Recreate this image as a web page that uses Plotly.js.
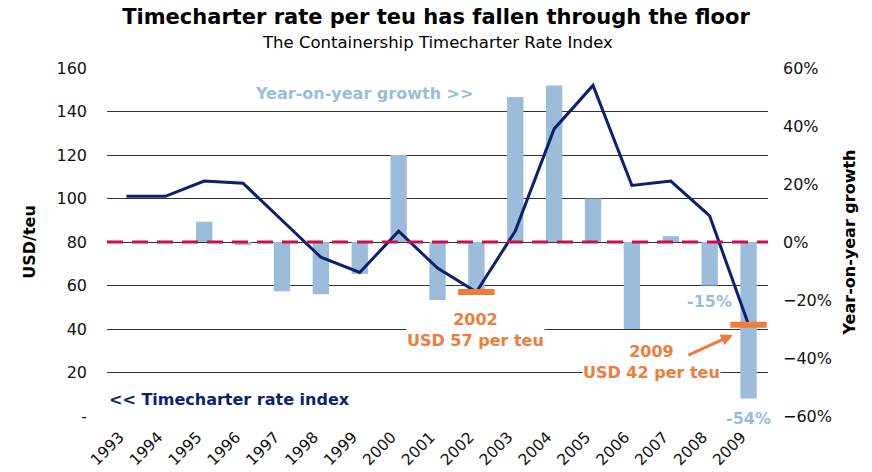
<!DOCTYPE html>
<html>
<head>
<meta charset="utf-8">
<script src="https://cdn.plot.ly/plotly-3.0.1.min.js"></script>
<style>html,body{margin:0;padding:0;background:#fff;}#chart{width:872px;height:472px;}</style>
</head>
<body>
<div id="chart"></div>
<script>
const years = ['1993','1994','1995','1996','1997','1998','1999','2000','2001','2002','2003','2004','2005','2006','2007','2008','2009'];
const rateIndex = [101, 101, 108, 107, 90, 73, 66, 85, 68, 57, 85, 132, 152, 106, 108, 92, 42];
const yoyGrowth = [null, 0, 7, -1, -17, -18, -11, 30, -20, -17, 50, 54, 15, -30, 2, -15, -54];
const lowYears = ['2002', '2009'];
const lowValues = [57, 42];
const leftTickVals = [0, 20, 40, 60, 80, 100, 120, 140, 160];
const leftTickText = ['-', '20', '40', '60', '80', '100', '120', '140', '160'];

const FONT = 'Verdana, "DejaVu Sans", sans-serif';
const ORANGE = '#f07c3c';
const LIGHTBLUE = '#9bbcdb';
const NAVY = '#0c1f70';

// Bars on the base axis 'y' (drawn right); the rate index on overlaying 'y2' (drawn left) so it sits above the bars.
const traces = [
  {type: 'bar', x: years, y: yoyGrowth, yaxis: 'y', width: 0.42,
   marker: {color: LIGHTBLUE}, hoverinfo: 'skip'},
  {type: 'scatter', mode: 'lines', x: years, y: rateIndex, yaxis: 'y2',
   line: {color: NAVY, width: 3}},
  {type: 'scatter', mode: 'markers', x: lowYears, y: lowValues, yaxis: 'y2',
   marker: {symbol: 'line-ew', size: 26, line: {width: 6, color: ORANGE}, color: ORANGE}}
];

const annFont = (c) => ({family: FONT, size: 16, color: c, weight: 'bold'});
const ann = (x, y, text, color, extra) => Object.assign({
  xref: 'paper', yref: 'paper', x: x, y: y, xanchor: 'center', yanchor: 'middle',
  text: text, showarrow: false, font: annFont(color)}, extra || {});

const layout = {
  width: 872, height: 472,
  margin: {l: 107, r: 104, t: 68, b: 56},
  paper_bgcolor: '#fff', plot_bgcolor: '#fff',
  showlegend: false,
  font: {family: FONT, size: 16, color: '#111'},
  title: {text: '<b>Timecharter rate per teu has fallen through the floor</b>',
          font: {family: FONT, size: 21, color: '#000'},
          x: 0.5, xanchor: 'center', y: 0.964, yref: 'container', yanchor: 'middle'},
  xaxis: {type: 'category', range: [-0.5, 16.5], tickangle: -45, showgrid: false, zeroline: false,
          tickfont: {family: FONT, size: 15.5, color: '#111'}, ticks: '', showline: false,
          ticklabelstandoff: 8, ticklabelshift: -7},
  yaxis: {range: [-60, 60], side: 'right', dtick: 20, ticksuffix: '%',
          showgrid: false, zeroline: false,
          tickfont: {family: FONT, size: 16, color: '#111'}, ticklabelstandoff: 14,
          title: {text: '<b>Year-on-year growth</b>', font: {family: FONT, size: 16, color: '#000'}, standoff: 12}},
  yaxis2: {range: [0, 160], overlaying: 'y', side: 'left', tickvals: leftTickVals, ticktext: leftTickText,
           showgrid: true, gridcolor: '#333', gridwidth: 1, zeroline: false,
           tickfont: {family: FONT, size: 16, color: '#111'}, ticklabelstandoff: 19,
           title: {text: '<b>USD/teu</b>', font: {family: FONT, size: 16, color: '#000'}, standoff: 16}},
  shapes: [
    {type: 'line', xref: 'paper', x0: 0, x1: 1, yref: 'y2', y0: 80, y1: 80,
     line: {color: '#c8104f', width: 3, dash: '16px,9px'}, layer: 'above'}
  ],
  annotations: [
    {xref: 'paper', yref: 'paper', x: 0.5, y: 1.072, xanchor: 'center', yanchor: 'middle',
     text: 'The Containership Timecharter Rate Index',
     showarrow: false, font: {family: '"DejaVu Sans", sans-serif', size: 16.5, color: '#000'}},
    ann(0.389, 0.928, 'Year-on-year growth >>', LIGHTBLUE),
    ann(0, 0.046, '<< Timecharter rate index', NAVY, {xanchor: 'left'}),
    ann(0.557, 0.247, '2002<br>USD 57 per teu', ORANGE, {bgcolor: '#fff', borderpad: 0}),
    ann(0.8245, 0.155, '2009<br>USD 42 per teu', ORANGE, {bgcolor: '#fff', borderpad: 0}),
    {xref: 'paper', yref: 'paper', x: 0.947, y: 0.233, text: '', showarrow: true,
     ax: -46, ay: 21, arrowcolor: ORANGE, arrowwidth: 3, arrowhead: 2, arrowsize: 0.8},
    ann(0.911, 0.328, '-15%', LIGHTBLUE),
    ann(0.97, -0.006, '-54%', LIGHTBLUE, {bgcolor: '#fff', borderpad: 0})
  ]
};

Plotly.newPlot('chart', traces, layout, {displayModeBar: false, staticPlot: true});
</script>
</body>
</html>
